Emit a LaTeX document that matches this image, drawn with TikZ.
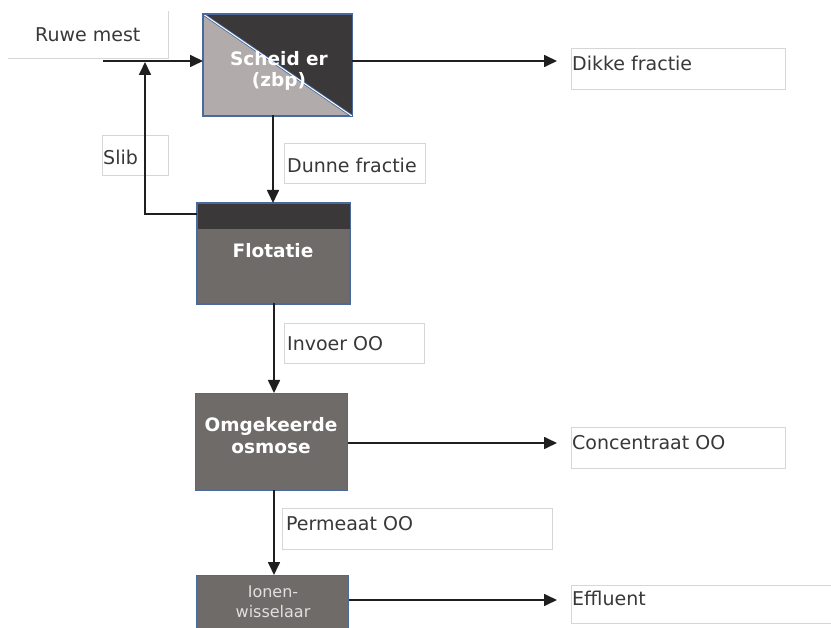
\documentclass[tikz,border=0pt]{standalone}
\usepackage{fontspec}
\setmainfont{DejaVu Sans}
\usetikzlibrary{arrows.meta}
\definecolor{darkfill}{HTML}{3A3838}
\definecolor{midfill}{HTML}{6F6B69}
\definecolor{lightfill}{HTML}{B1ACAB}
\definecolor{edgeblue}{HTML}{4A6A9E}
\definecolor{lblline}{HTML}{D6D6D6}
\definecolor{txtgray}{HTML}{383838}
\begin{document}
\begin{tikzpicture}[x=1pt,y=-1pt,
  flow/.style={line width=1.7pt, draw=black!88, -{Triangle[length=13pt,width=12pt]}},
  lblbox/.style={draw=lblline, line width=0.9pt, fill=white, inner sep=0pt, anchor=north west},
  lbltxt/.style={anchor=west, inner sep=0pt, font=\fontsize{19}{22}\selectfont, text=txtgray},
  proc/.style={draw=edgeblue, line width=1.1pt, fill=midfill, inner sep=0pt, anchor=north west},
  proctxt/.style={text=white, font=\bfseries\fontsize{18.5}{22}\selectfont, align=center, inner sep=0pt}]

\useasboundingbox (0,0) rectangle (831,628);

% label boxes
\coordinate (rmA) at (8,58);
\coordinate (rmB) at (168,58);
\coordinate (rmC) at (168,11);
\draw[lblline, line width=0.9pt] (rmA) -- (rmB) -- (rmC);
\node[lbltxt] (ruwe) at (35,35) {Ruwe mest};

\node[lblbox, minimum width=214pt, minimum height=41pt] (dikkebox) at (571,48) {};
\node[lbltxt] (dikke) at (572,63) {Dikke fractie};

\node[lblbox, minimum width=66pt, minimum height=40pt] (slibbox) at (102,135) {};
\node[lblbox, minimum width=141pt, minimum height=40pt] (dunnebox) at (284,143) {};
\node[lbltxt] (dunne) at (287,165) {Dunne fractie};

\node[lblbox, minimum width=140pt, minimum height=40pt] (invoerbox) at (284,323) {};
\node[lbltxt] (invoer) at (287,344) {Invoer OO};

\node[lblbox, minimum width=214pt, minimum height=41pt] (concbox) at (571,427) {};
\node[lbltxt] (conc) at (572,443) {Concentraat OO};

\node[lblbox, minimum width=270pt, minimum height=41pt] (permbox) at (282,508) {};
\node[lbltxt] (perm) at (286,524) {Permeaat OO};

\node[lblbox, minimum width=280pt, minimum height=38pt] (effbox) at (571,585) {};
\node[lbltxt] (eff) at (572,598) {Effluent};

% Scheider
\node[proc, fill=lightfill, minimum width=148pt, minimum height=101pt] (scheider) at (203,14) {};
\fill[darkfill] (scheider.north west) -- (scheider.north east) -- (scheider.south east) -- cycle;
\draw[edgeblue, line width=2.6pt] (scheider.north west) -- (scheider.south east);
\draw[white, line width=1pt] (scheider.north west) -- (scheider.south east);
\draw[edgeblue, line width=1.1pt] (scheider.north west) rectangle (scheider.south east);
\node[proctxt, font=\bfseries\fontsize{18.5}{21}\selectfont] (scheidertxt) at (279,71) {Scheid er\\(zbp)};

% Flotatie
\node[proc, minimum width=152pt, minimum height=100pt] (flotatie) at (197,203) {};
\coordinate (bandY) at (0,229);
\fill[darkfill] (flotatie.north west) rectangle (flotatie.east |- bandY);
\draw[edgeblue, line width=1.1pt] (flotatie.north west) rectangle (flotatie.south east);
\node[proctxt] (flotatietxt) at (273,251) {Flotatie};

% Omgekeerde osmose
\node[proc, minimum width=152pt, minimum height=97pt] (oo) at (195,393) {};
\node[proctxt] (ootxt) at (271,436) {Omgekeerde\\osmose};

% Ionenwisselaar
\node[proc, minimum width=152pt, minimum height=60pt] (ion) at (196,575) {};
\node[proctxt, text=white!88!black, font=\fontsize{16}{19.5}\selectfont] (iontxt) at (273,602) {Ionen-\\wisselaar};

% connectors
\coordinate (inStart) at (103,61);
\coordinate (yA) at (0,61);
\coordinate (yB) at (0,443);
\coordinate (yC) at (0,600);
\coordinate (dikkeEnd) at (557,61);
\coordinate (concEnd) at (557,443);
\coordinate (effEnd) at (557,600);
\coordinate (slibcorner) at (145,214);
\coordinate (slibTop) at (145,62);
\coordinate (p1) at (273,115);
\coordinate (p2) at (273,203);
\coordinate (p3) at (274,303);
\coordinate (p4) at (274,393);
\coordinate (p5) at (274,490);
\coordinate (p6) at (274,575);
\draw[flow] (inStart) -- (inStart -| scheider.west);
\draw[flow] (scheider.east |- yA) -- (dikkeEnd);
\draw[flow] (p1) -- (p2);
\draw[flow] (flotatie.west |- slibcorner) -- (slibcorner) -- (slibTop);
\node[lbltxt] (slib) at (103,157) {Slib};
\draw[flow] (p3) -- (p4);
\draw[flow] (oo.east |- yB) -- (concEnd);
\draw[flow] (p5) -- (p6);
\draw[flow] (ion.east |- yC) -- (effEnd);
\end{tikzpicture}
\end{document}
